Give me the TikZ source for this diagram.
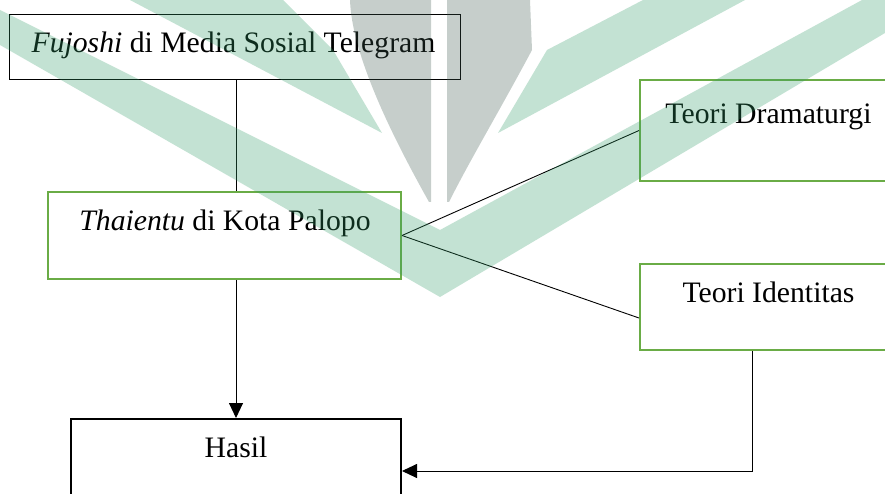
\documentclass[tikz,border=0pt]{standalone}
\usepackage{fontspec}
\setmainfont{Liberation Serif}
\usetikzlibrary{arrows.meta,calc}
\definecolor{boxgreen}{RGB}{106,172,70}
\definecolor{wmgreen}{RGB}{51,158,105}
\definecolor{wmgray}{RGB}{61,89,79}
\tikzset{
  greenbox/.style={draw=boxgreen,line width=2pt,inner sep=0pt},
  hasilbox/.style={draw=black,line width=2pt,inner sep=0pt},
  txt/.style={anchor=base,inner sep=0pt,font=\fontsize{29.7}{35}\selectfont},
  conn/.style={draw=black,line width=0.9pt},
  arr/.style={conn,-{Triangle[length=15pt,width=14pt]}},
  wm/.style={fill=#1,opacity=0.29,draw=none}
}
\begin{document}
\begin{tikzpicture}[x=1pt,y=-1pt]
\useasboundingbox (0,0) rectangle (885,494);
\fill[white] (0,0) rectangle (885,494);
% boxes
\node[draw=black,line width=1pt,inner sep=0pt,minimum width=451pt,minimum height=65pt] (b1) at (234.5,47.5) {};
\node[greenbox,minimum width=353pt,minimum height=87pt] (b2) at (224.5,235.5) {};
\node[greenbox,minimum width=257pt,minimum height=101pt] (b3) at (768.5,130.5) {};
\node[greenbox,minimum width=257pt,minimum height=86pt] (b4) at (768.5,307) {};
\node[hasilbox,minimum width=330pt,minimum height=104pt] (hasil) at (236,471) {};
% texts
\node[txt] (t1) at (233.5,53) {\textit{Fujoshi} di Media Sosial Telegram};
\node[txt] (t2) at (225,230) {\textit{Thaientu} di Kota Palopo};
\node[txt] (t3) at (768.5,124) {Teori Dramaturgi};
\node[txt] (t4) at (768.5,302) {Teori Identitas};
\node[txt] (t5) at (236,457) {Hasil};
% connectors
\coordinate (b4in) at ($(b4.west)+(0,11)$);
\coordinate (b4out) at ($(b4.south)+(-16.5,0)$);
\draw[conn] (b1.south -| hasil.north) -- (b2.north -| hasil.north);
\draw[arr] (b2.south -| hasil.north) -- (hasil.north);
\draw[conn] (b2.east) -- (b3.west);
\draw[conn] (b2.east) -- (b4in);
\draw[arr] (b4out) |- (hasil.east);
% watermark
\fill[wm=wmgreen] (498,133) -- (547,50) -- (643,0) -- (745,0) -- cycle;
\fill[wm=wmgreen] (382,133) -- (333,50) -- (283,0) -- (130,0) -- cycle;
\fill[wm=wmgreen] (440,230) -- (862,0) -- (885,0) -- (885,33) -- (440,297) -- (0,45) -- (0,10) -- cycle;
\fill[wm=wmgray] (350,0) -- (431,0) -- (431,202) -- (429,202) .. controls (400,150) and (352,60) .. (350,0) -- cycle;
\fill[wm=wmgray] (447,0) -- (530,0) -- (532,50) .. controls (500,110) and (470,160) .. (449,202) -- (447,202) -- cycle;
\end{tikzpicture}
\end{document}
